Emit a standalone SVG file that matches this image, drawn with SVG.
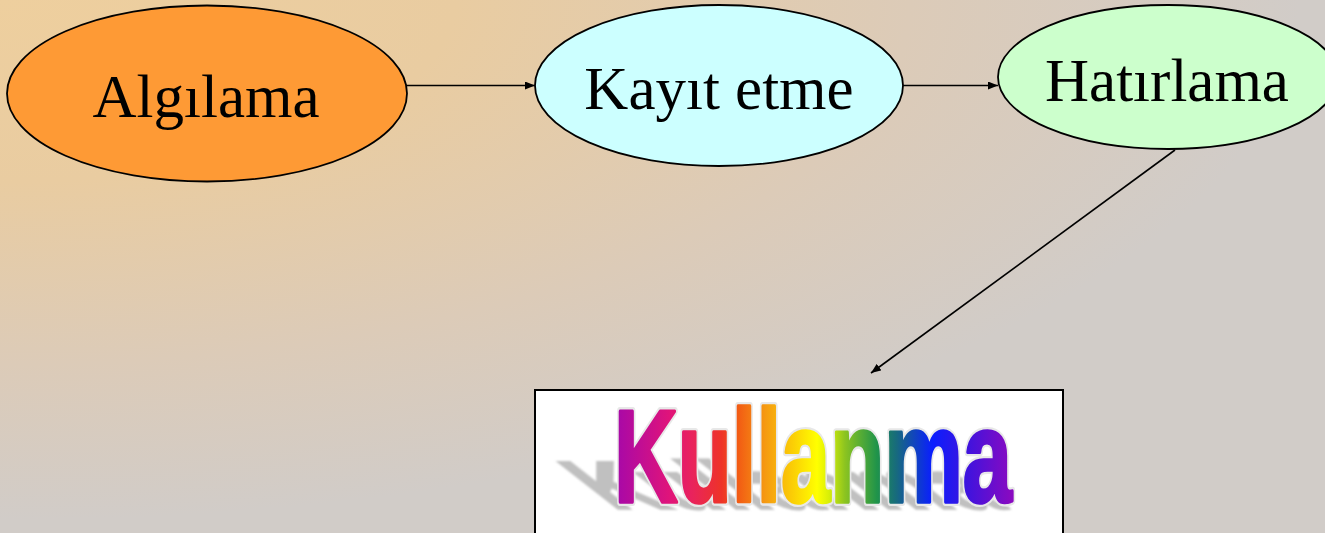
<svg xmlns="http://www.w3.org/2000/svg" width="1325" height="533" viewBox="0 0 1325 533">
  <defs>
    <radialGradient id="bg" gradientUnits="userSpaceOnUse" cx="0" cy="0" r="1300" gradientTransform="scale(1,0.4)">
      <stop offset="0" stop-color="#eecf9e"/>
      <stop offset="0.35" stop-color="#e9cca1"/>
      <stop offset="0.7" stop-color="#dccbb8"/>
      <stop offset="1" stop-color="#d1ccc8"/>
    </radialGradient>
    <linearGradient id="rainbow" gradientUnits="userSpaceOnUse" x1="0" y1="0" x2="398" y2="0">
      <stop offset="0" stop-color="#a508aa"/>
      <stop offset="0.14" stop-color="#e0147a"/>
      <stop offset="0.2" stop-color="#e9245a"/>
      <stop offset="0.27" stop-color="#ee3328"/>
      <stop offset="0.31" stop-color="#f25a14"/>
      <stop offset="0.38" stop-color="#f59a12"/>
      <stop offset="0.45" stop-color="#fbcf05"/>
      <stop offset="0.51" stop-color="#ffff00"/>
      <stop offset="0.54" stop-color="#d8ef08"/>
      <stop offset="0.58" stop-color="#8cc420"/>
      <stop offset="0.66" stop-color="#20944a"/>
      <stop offset="0.71" stop-color="#176a7e"/>
      <stop offset="0.8" stop-color="#0a1eff"/>
      <stop offset="0.88" stop-color="#3a14e0"/>
      <stop offset="1" stop-color="#8a0ac0"/>
    </linearGradient>
    <marker id="arrow" viewBox="0 0 10 8" refX="10" refY="4" markerWidth="10" markerHeight="8" markerUnits="userSpaceOnUse" orient="auto">
      <path d="M0,0 L10,4 L0,8 Z" fill="#000"/>
    </marker>
    <filter id="soft" x="-10%" y="-20%" width="120%" height="140%">
      <feGaussianBlur stdDeviation="0.8"/>
    </filter>
  </defs>
  <style>
    .node { stroke: #000; stroke-width: 1.8; }
    .label { font-family: "Liberation Serif", "Times New Roman", serif; font-size: 61px; fill: #000; text-anchor: middle; }
    .link { stroke: #000; stroke-width: 1.6; fill: none; marker-end: url(#arrow); }
    .word { font-family: "Liberation Sans", Arial, sans-serif; font-weight: bold; font-size: 88px; }
    .halo { fill: #e8e8e8; stroke: #e8e8e8; stroke-width: 7; stroke-linejoin: round; vector-effect: non-scaling-stroke; }
    .face { fill: url(#rainbow); stroke: url(#rainbow); stroke-width: 3; stroke-linejoin: round; vector-effect: non-scaling-stroke; }
  </style>

  <rect x="0" y="0" width="1325" height="533" fill="url(#bg)"/>

  <g id="connectors">
    <line class="link" x1="407" y1="85.5" x2="535" y2="85.5"/>
    <line class="link" x1="903" y1="85.5" x2="998" y2="85.5"/>
    <line class="link" x1="1175" y1="150" x2="871" y2="373"/>
  </g>

  <g id="algilama">
    <ellipse class="node" cx="207" cy="93.5" rx="200" ry="88" fill="#fe9a35"/>
    <text class="label" x="206" y="117">Algılama</text>
  </g>

  <g id="kayit-etme">
    <ellipse class="node" cx="719" cy="85.5" rx="184" ry="80.5" fill="#ccffff"/>
    <text class="label" x="719" y="109">Kayıt etme</text>
  </g>

  <g id="hatirlama">
    <ellipse class="node" cx="1168" cy="77" rx="170" ry="72" fill="#ccffcc"/>
    <text class="label" x="1167" y="101">Hatırlama</text>
  </g>

  <g id="kullanma">
    <rect x="535" y="390" width="528" height="170" fill="#ffffff" stroke="#000" stroke-width="2"/>
    <!-- slanted drop shadow behind the word art -->
    <g filter="url(#soft)">
      <text class="word" transform="translate(612,509) skewX(52) scale(1,0.78)" textLength="398" lengthAdjust="spacingAndGlyphs" fill="#c0c0c0" stroke="#c0c0c0" stroke-width="2">Kullanma</text>
    </g>
    <text class="word halo" transform="translate(614,502) scale(1,1.5)" textLength="398" lengthAdjust="spacingAndGlyphs">Kullanma</text>
    <text class="word face" transform="translate(614,502) scale(1,1.5)" textLength="398" lengthAdjust="spacingAndGlyphs">Kullanma</text>
  </g>
</svg>
